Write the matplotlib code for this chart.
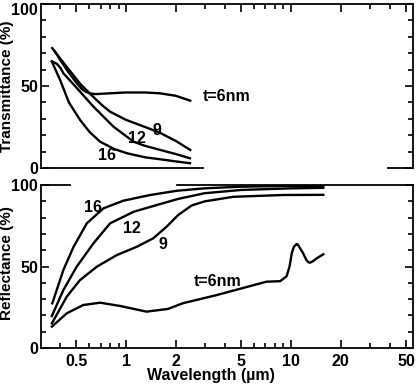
import matplotlib.pyplot as plt
from matplotlib.ticker import FixedLocator, NullFormatter
from matplotlib.transforms import ScaledTranslation

plt.rcParams['font.family'] = ['Liberation Sans', 'DejaVu Sans']
plt.rcParams['font.weight'] = 'bold'

# transmittance, top panel (wavelength in um, T in %)
tr_wl_6 = [0.37, 0.41, 0.45, 0.50, 0.54, 0.57, 0.60, 0.65, 0.80, 1.0, 1.3, 1.6, 2.0, 2.45]
tr_6 = [71, 64, 58, 52, 48, 46.5, 45.5, 45, 45.5, 46, 46, 45.5, 44, 41]

tr_wl_9 = [0.357, 0.40, 0.45, 0.53, 0.63, 0.72, 0.80, 1.0, 1.3, 1.6, 2.0, 2.45]
tr_9 = [73, 66.5, 60, 51, 43.5, 38, 34.3, 29.3, 25, 21.5, 16.5, 11]

tr_wl_12 = [0.355, 0.38, 0.40, 0.417, 0.50, 0.634, 0.838, 1.11, 1.3, 1.61, 2.0, 2.44]
tr_12 = [65, 63.5, 61, 57.7, 49, 37.4, 25.2, 16, 13.5, 11, 8.5, 5.9]

tr_wl_16 = [0.355, 0.398, 0.45, 0.526, 0.60, 0.696, 0.85, 1.01, 1.3, 1.61, 2.0, 2.44]
tr_16 = [64.8, 53.7, 40, 29.3, 22, 16, 11.5, 9, 6.5, 5.3, 4, 2.9]

# reflectance, bottom panel
rf_wl_16 = [0.357, 0.417, 0.48, 0.578, 0.729, 0.963, 1.40, 2.03, 3.0, 5.0, 10, 15.7]
rf_16 = [27.4, 47.9, 62, 76.5, 85.7, 90.4, 93.9, 96.5, 98, 99, 99.5, 99.5]

rf_wl_12 = [0.355, 0.417, 0.502, 0.634, 0.80, 1.11, 1.53, 2.07, 3.0, 5.0, 10, 15.7]
rf_12 = [19.6, 35.6, 49.9, 64.2, 76.5, 83.6, 87.7, 91.5, 95, 97, 98, 98.3]

rf_wl_9 = [0.355, 0.437, 0.526, 0.665, 0.878, 1.16, 1.46, 1.76, 2.07, 2.5, 3.0, 4.47, 8.98, 15.7]
rf_9 = [15.1, 31.5, 41.7, 49.9, 57, 62.1, 67.3, 74.4, 81.6, 87.5, 90, 92.8, 93.9, 94]

rf_wl_6 = [0.355, 0.437, 0.551, 0.696, 0.92, 1.33, 1.8, 2.2, 3.55, 5.65, 7.1, 8.6, 9.4,
           9.8, 10.1, 10.4, 10.8, 11.0, 11.3, 11.8, 12.4, 12.7, 13.0, 13.6, 14.3, 15.7]
rf_6 = [13.1, 21.3, 26.4, 27.8, 25.8, 22.3, 24, 27.4, 32.5, 38, 40.7, 41, 44,
        50, 58, 62, 63.8, 63.5, 61.5, 58.5, 54, 52.8, 52.3, 53.3, 55, 57.5]

major_x = [0.5, 1, 2, 5, 10, 20, 50]
minor_x = [0.4, 0.6, 0.7, 0.8, 0.9, 3, 4, 6, 7, 8, 9, 30, 40]
x_labels = ['0.5', '1', '2', '5', '10', '20', '50']

fig = plt.figure(figsize=(4.2, 3.87), dpi=100)
ax1 = fig.add_axes([0.0976, 0.566, 0.886, 0.424])
ax2 = fig.add_axes([0.0976, 0.1008, 0.886, 0.421])

lw = 1.7
for wl, v in [(tr_wl_6, tr_6), (tr_wl_9, tr_9), (tr_wl_12, tr_12), (tr_wl_16, tr_16)]:
    ax1.plot(wl, v, color='black', lw=lw)
for wl, v in [(rf_wl_6, rf_6), (rf_wl_9, rf_9), (rf_wl_12, rf_12), (rf_wl_16, rf_16)]:
    ax2.plot(wl, v, color='black', lw=lw)

for ax in (ax1, ax2):
    ax.set_xscale('log')
    ax.set_xlim(0.305, 55)
    ax.set_ylim(0, 100)
    ax.xaxis.set_major_locator(FixedLocator(major_x))
    ax.xaxis.set_minor_locator(FixedLocator(minor_x))
    ax.xaxis.set_minor_formatter(NullFormatter())
    ax.yaxis.set_major_locator(FixedLocator([0, 50, 100]))
    ax.yaxis.set_minor_locator(FixedLocator([10, 20, 30, 40, 60, 70, 80, 90]))
    ax.tick_params(which='both', direction='in', width=1.2, labelsize=11.5)
    ax.tick_params(which='major', length=6)
    ax.tick_params(which='minor', length=3.5)
    ax.tick_params(axis='y', which='both', left=True, right=True, pad=2)
    for s in ax.spines.values():
        s.set_linewidth(1.3)

# top panel: ticks on top edge, gap in the bottom edge
ax1.tick_params(axis='x', which='both', top=True, bottom=False, labelbottom=False)
ax1.spines['bottom'].set_visible(False)
ax1.axhline(0, xmin=0, xmax=0.435, color='black', lw=1.3, clip_on=False)
ax1.axhline(0, xmin=0.933, xmax=1, color='black', lw=1.3, clip_on=False)
ax1.set_ylabel('Transmittance (%)', fontsize=11, fontweight='bold')
ax1.yaxis.set_label_coords(-0.072, 0.5)
# the "100" label sits a little lower than its tick
top_lbl = ax1.get_yticklabels()[-1]
top_lbl.set_transform(top_lbl.get_transform() + ScaledTranslation(0, -4 / 72, fig.dpi_scale_trans))

# bottom panel: gap in the top edge
ax2.tick_params(axis='x', which='both', top=False, bottom=True, pad=4)
ax2.set_xticklabels(x_labels)
ax2.spines['top'].set_visible(False)
ax2.axhline(100, xmin=0, xmax=0.078, color='black', lw=1.3, clip_on=False)
ax2.axhline(100, xmin=0.366, xmax=1, color='black', lw=1.3, clip_on=False)
ax2.set_ylabel('Reflectance (%)', fontsize=11, fontweight='bold')
ax2.yaxis.set_label_coords(-0.072, 0.52)
ax2.set_xlabel('Wavelength (\u00b5m)', fontsize=11.5, fontweight='bold')
ax2.xaxis.set_label_coords(0.458, -0.12)

# curve labels
fs = 11.5
ax1.text(2.93, 43.5, 't=6nm', fontsize=fs, fontweight='bold', va='center')
ax1.text(1.54, 23, '9', fontsize=fs, fontweight='bold', va='center', ha='center')
ax1.text(1.16, 18, '12', fontsize=fs, fontweight='bold', va='center', ha='center')
ax1.text(0.764, 7.5, '16', fontsize=fs, fontweight='bold', va='center', ha='center')

ax2.text(0.634, 86, '16', fontsize=fs, fontweight='bold', va='center', ha='center')
ax2.text(1.08, 73.5, '12', fontsize=fs, fontweight='bold', va='center', ha='center')
ax2.text(1.68, 63.5, '9', fontsize=fs, fontweight='bold', va='center', ha='center')
ax2.text(2.56, 41, 't=6nm', fontsize=fs, fontweight='bold', va='center')

fig.savefig('out.png', dpi=100)
